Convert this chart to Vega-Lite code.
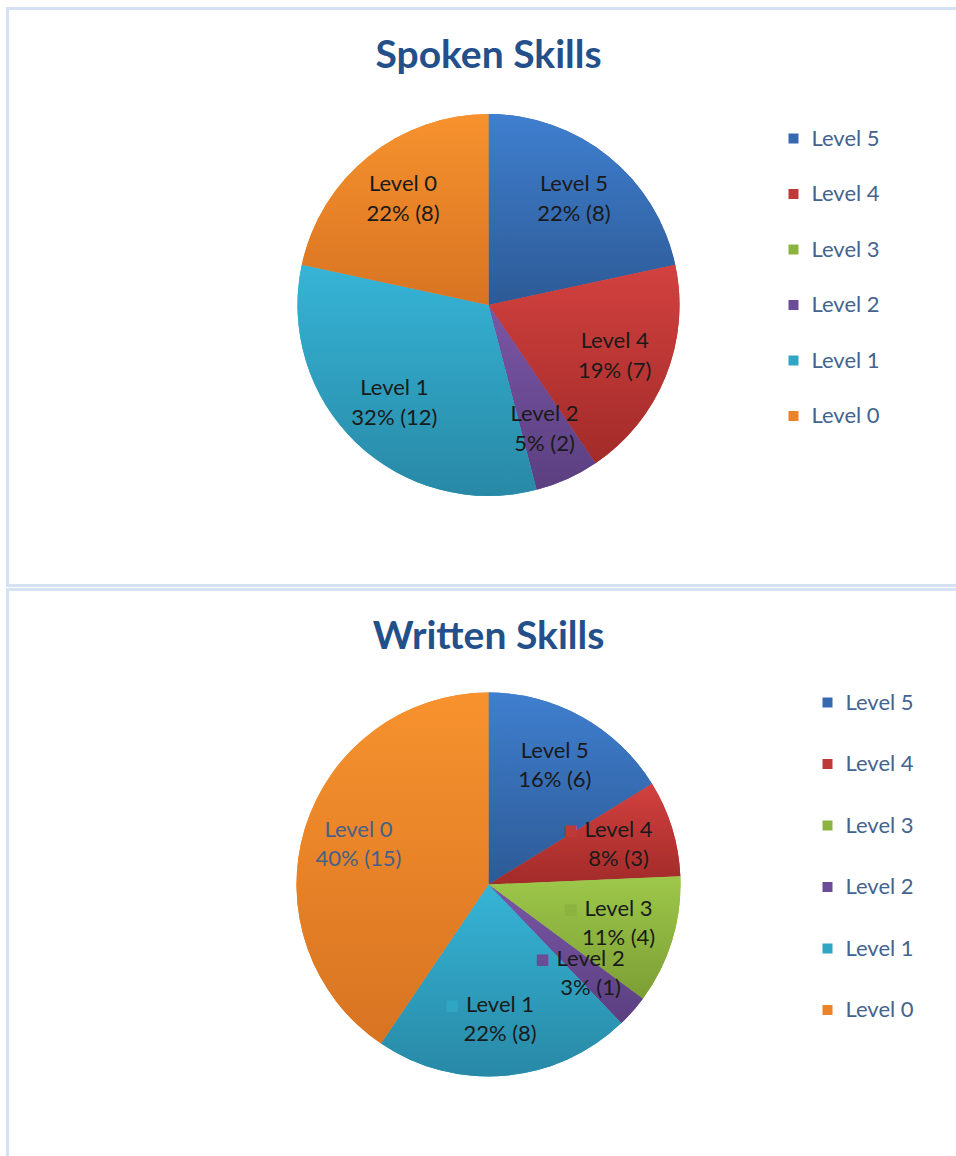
{
  "$schema": "https://vega.github.io/schema/vega-lite/v6.json",
  "padding": {"left": 5.5, "top": 6.5, "right": 0, "bottom": 0},
  "background": "white",
  "spacing": 0,
  "config": {
    "view": {"stroke": null},
    "text": {"lineBreak": "\n"},
    "title": {"font": "Lato", "fontSize": 39, "fontWeight": "bold", "color": "#23508A", "anchor": "middle", "baseline": "alphabetic"},
    "legend": {"orient": "none", "symbolType": "square", "symbolSize": 100, "symbolStrokeWidth": 0, "labelFont": "Lato", "labelFontSize": 22, "labelColor": "#44638F", "labelOffset": 7}
  },
  "datasets": {
    "spoken": [
      {"level": "Level 5", "count": 8, "label": "Level 5\n22% (8)"},
      {"level": "Level 4", "count": 7, "label": "Level 4\n19% (7)"},
      {"level": "Level 3", "count": 0, "label": "Level 3\n0% (0)"},
      {"level": "Level 2", "count": 2, "label": "Level 2\n5% (2)"},
      {"level": "Level 1", "count": 12, "label": "Level 1\n32% (12)"},
      {"level": "Level 0", "count": 8, "label": "Level 0\n22% (8)"}
    ],
    "written": [
      {"level": "Level 5", "count": 6, "label": "Level 5\n16% (6)"},
      {"level": "Level 4", "count": 3, "label": "Level 4\n8% (3)"},
      {"level": "Level 3", "count": 4, "label": "Level 3\n11% (4)"},
      {"level": "Level 2", "count": 1, "label": "Level 2\n3% (1)"},
      {"level": "Level 1", "count": 8, "label": "Level 1\n22% (8)"},
      {"level": "Level 0", "count": 15, "label": "Level 0\n40% (15)"}
    ]
  },
  "resolve": {"scale": {"color": "independent"}, "legend": {"color": "independent"}},
  "vconcat": [
    {
      "width": 962,
      "height": 577,
      "title": {"text": "Spoken Skills", "offset": -69},
      "layer": [
        {
          "data": {"values": [{}]},
          "mark": {"type": "rect", "fill": null, "stroke": "#D5E2F3", "strokeWidth": 3},
          "encoding": {}
        },
        {
          "data": {"name": "spoken"},
          "mark": {"type": "arc", "outerRadius": 191, "yOffset": 8},
          "encoding": {
            "theta": {"field": "count", "type": "quantitative", "stack": true},
            "order": {"field": "level", "sort": "descending"},
            "color": {
              "field": "level", "type": "nominal",
              "scale": {"domain": ["Level 5", "Level 4", "Level 3", "Level 2", "Level 1", "Level 0"], "range": ["#3769B0", "#BE3A38", "#8CB340", "#6B4C96", "#30A5C4", "#EB8428"]},
              "legend": {"title": null, "legendX": 775, "legendY": 119, "rowPadding": 33.5}
            }
          }
        },
        {
          "data": {"name": "spoken"},
          "mark": {"type": "arc", "outerRadius": 191, "yOffset": 8},
          "encoding": {
            "theta": {"field": "count", "type": "quantitative", "stack": true},
            "order": {"field": "level", "sort": "descending"},
            "fill": {
              "condition": [
                {"test": "datum.level === 'Level 5'", "value": {"gradient": "linear", "x1": 0, "y1": 0, "x2": 0, "y2": 1, "stops": [{"offset": 0, "color": "#3F7FCF"}, {"offset": 1, "color": "#2D5A96"}]}},
                {"test": "datum.level === 'Level 4'", "value": {"gradient": "linear", "x1": 0, "y1": 0, "x2": 0, "y2": 1, "stops": [{"offset": 0, "color": "#D2413F"}, {"offset": 1, "color": "#A22B29"}]}},
                {"test": "datum.level === 'Level 3'", "value": {"gradient": "linear", "x1": 0, "y1": 0, "x2": 0, "y2": 1, "stops": [{"offset": 0, "color": "#9DC84A"}, {"offset": 1, "color": "#7C9E34"}]}},
                {"test": "datum.level === 'Level 2'", "value": {"gradient": "linear", "x1": 0, "y1": 0, "x2": 0, "y2": 1, "stops": [{"offset": 0, "color": "#7A56A6"}, {"offset": 1, "color": "#5B3F80"}]}},
                {"test": "datum.level === 'Level 1'", "value": {"gradient": "linear", "x1": 0, "y1": 0, "x2": 0, "y2": 1, "stops": [{"offset": 0, "color": "#36B4D6"}, {"offset": 1, "color": "#2889A6"}]}}
              ],
              "value": {"gradient": "linear", "x1": 0, "y1": 0, "x2": 0, "y2": 1, "stops": [{"offset": 0, "color": "#F7922E"}, {"offset": 1, "color": "#D87322"}]}
            }
          }
        },
        {
          "data": {"name": "spoken"},
          "transform": [{"filter": "datum.count > 0"}],
          "mark": {"type": "text", "radius": 136, "yOffset": 8, "dy": -15, "font": "Lato", "fontSize": 22, "lineHeight": 30, "color": "#1A1A1A"},
          "encoding": {
            "theta": {"field": "count", "type": "quantitative", "stack": true},
            "order": {"field": "level", "sort": "descending"},
            "text": {"field": "label"}
          }
        }
      ]
    },
    {
      "width": 962,
      "height": 594,
      "title": {"text": "Written Skills", "offset": -69},
      "layer": [
        {
          "data": {"values": [{}]},
          "mark": {"type": "rect", "fill": null, "stroke": "#D5E2F3", "strokeWidth": 3},
          "encoding": {}
        },
        {
          "data": {"name": "written"},
          "mark": {"type": "arc", "outerRadius": 192, "yOffset": -2},
          "encoding": {
            "theta": {"field": "count", "type": "quantitative", "stack": true},
            "order": {"field": "level", "sort": "descending"},
            "color": {
              "field": "level", "type": "nominal",
              "scale": {"domain": ["Level 5", "Level 4", "Level 3", "Level 2", "Level 1", "Level 0"], "range": ["#3769B0", "#BE3A38", "#8CB340", "#6B4C96", "#30A5C4", "#EB8428"]},
              "legend": {"title": null, "legendX": 809, "legendY": 102, "rowPadding": 39.5}
            }
          }
        },
        {
          "data": {"name": "written"},
          "mark": {"type": "arc", "outerRadius": 192, "yOffset": -2},
          "encoding": {
            "theta": {"field": "count", "type": "quantitative", "stack": true},
            "order": {"field": "level", "sort": "descending"},
            "fill": {
              "condition": [
                {"test": "datum.level === 'Level 5'", "value": {"gradient": "linear", "x1": 0, "y1": 0, "x2": 0, "y2": 1, "stops": [{"offset": 0, "color": "#3F7FCF"}, {"offset": 1, "color": "#2D5A96"}]}},
                {"test": "datum.level === 'Level 4'", "value": {"gradient": "linear", "x1": 0, "y1": 0, "x2": 0, "y2": 1, "stops": [{"offset": 0, "color": "#D2413F"}, {"offset": 1, "color": "#A22B29"}]}},
                {"test": "datum.level === 'Level 3'", "value": {"gradient": "linear", "x1": 0, "y1": 0, "x2": 0, "y2": 1, "stops": [{"offset": 0, "color": "#9DC84A"}, {"offset": 1, "color": "#7C9E34"}]}},
                {"test": "datum.level === 'Level 2'", "value": {"gradient": "linear", "x1": 0, "y1": 0, "x2": 0, "y2": 1, "stops": [{"offset": 0, "color": "#7A56A6"}, {"offset": 1, "color": "#5B3F80"}]}},
                {"test": "datum.level === 'Level 1'", "value": {"gradient": "linear", "x1": 0, "y1": 0, "x2": 0, "y2": 1, "stops": [{"offset": 0, "color": "#36B4D6"}, {"offset": 1, "color": "#2889A6"}]}}
              ],
              "value": {"gradient": "linear", "x1": 0, "y1": 0, "x2": 0, "y2": 1, "stops": [{"offset": 0, "color": "#F7922E"}, {"offset": 1, "color": "#D87322"}]}
            }
          }
        },
        {
          "data": {"name": "written"},
          "mark": {"type": "text", "radius": 136, "yOffset": -2, "dx": -48, "dy": -15, "font": "DejaVu Sans", "fontSize": 15},
          "encoding": {
            "theta": {"field": "count", "type": "quantitative", "stack": true},
            "order": {"field": "level", "sort": "descending"},
            "text": {"condition": {"test": "datum.level !== 'Level 5' && datum.level !== 'Level 0'", "value": "■"}, "value": ""},
            "color": {"field": "level", "type": "nominal", "legend": null}
          }
        },
        {
          "data": {"name": "written"},
          "mark": {"type": "text", "radius": 136, "yOffset": -2, "dy": -15, "font": "Lato", "fontSize": 22, "lineHeight": 29},
          "encoding": {
            "theta": {"field": "count", "type": "quantitative", "stack": true},
            "order": {"field": "level", "sort": "descending"},
            "text": {"field": "label"},
            "color": {"condition": {"test": "datum.level === 'Level 0'", "value": "#44618A"}, "value": "#1A1A1A"}
          }
        }
      ]
    }
  ]
}
